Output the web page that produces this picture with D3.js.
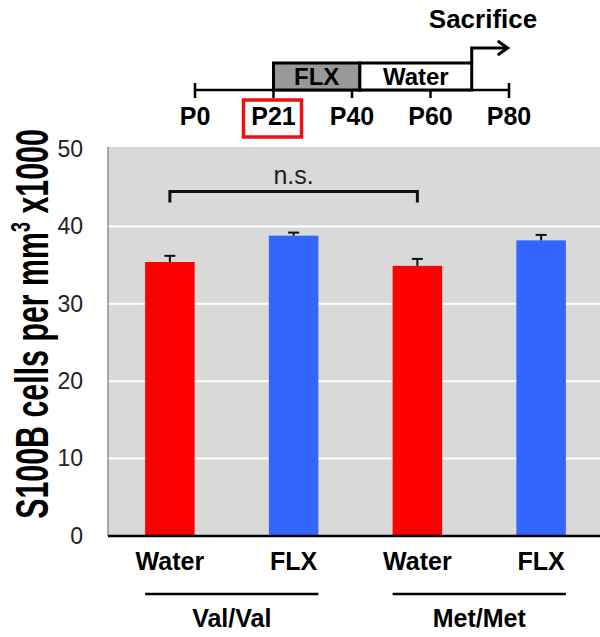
<!DOCTYPE html>
<html>
<head>
<meta charset="utf-8">
<script src="https://cdn.jsdelivr.net/npm/d3@7"></script>
<style>
	body { margin: 0; background: #fff; }
	svg { display: block; font-family: "Liberation Sans", Arial, sans-serif; }
</style>
</head>
<body>
<svg></svg>
<script>
const svgWidth = 600;
const svgHeight = 637;

// bar data
const treatments = ["Water", "FLX", "Water", "FLX"];
const genotypes = ["Val/Val", "Val/Val", "Met/Met", "Met/Met"];
const means = [35.4, 38.8, 34.9, 38.2];
const errors = [0.8, 0.4, 0.9, 0.7];
const barColors = ["#ff0000", "#3366ff", "#ff0000", "#3366ff"];
const yTicks = [0, 10, 20, 30, 40, 50];

// timeline data
const ageTicks = [0, 21, 40, 60, 80];
const ageLabels = ["P0", "P21", "P40", "P60", "P80"];
const phases = ["FLX", "Water"];
const phaseStart = [21, 42];
const phaseEnd = [42, 70.5];
const phaseFill = ["#999999", "#ffffff"];
const sacrificeAge = 70.5;

const svg = d3.select("svg")
	.attr("width", svgWidth)
	.attr("height", svgHeight);

const plot = { left: 108, right: 603, top: 149, bottom: 536 };

let xScale = d3.scaleBand()
	.domain(d3.range(means.length))
	.range([plot.left, plot.right])
	.paddingInner(0.6)
	.paddingOuter(0.3);
let yScale = d3.scaleLinear()
	.domain([0, 50])
	.range([plot.bottom, plot.top]);

// Plot background
svg.append("rect")
	.attr("x", plot.left)
	.attr("y", plot.top - 2)
	.attr("width", plot.right - plot.left)
	.attr("height", plot.bottom - plot.top + 2)
	.attr("fill", "#d9d9d9");

// Grid lines
svg.append("g")
	.selectAll("line")
	.data(yTicks.filter(d => d > 0 && d < 50))
	.enter()
	.append("line")
		.attr("x1", plot.left)
		.attr("x2", plot.right)
		.attr("y1", d => yScale(d))
		.attr("y2", d => yScale(d))
		.attr("stroke", "#ffffff")
		.attr("stroke-width", 2);

// Y axis
let yAxis = d3.axisLeft(yScale)
	.tickValues(yTicks)
	.tickSize(0)
	.tickPadding(25);
let yAxisG = svg.append("g")
	.attr("transform", `translate(${plot.left}, 0)`)
	.call(yAxis);
yAxisG.select(".domain")
	.attr("stroke", "#8c8c8c")
	.attr("stroke-width", 1.5)
	.attr("d", `M0,${plot.top - 2}V${plot.bottom}`);
yAxisG.selectAll("text")
	.attr("font-size", 23)
	.attr("fill", "#222")
	.attr("font-family", "'Liberation Sans', Arial, sans-serif");

// Bars
svg.append("g")
	.selectAll("rect")
	.data(means)
	.enter()
	.append("rect")
		.attr("x", (d, i) => xScale(i))
		.attr("y", d => yScale(d))
		.attr("width", xScale.bandwidth())
		.attr("height", d => yScale(0) - yScale(d))
		.attr("fill", (d, i) => barColors[i]);

// Error bars
let errG = svg.append("g")
	.attr("stroke", "#111")
	.attr("stroke-width", 2);
means.forEach((m, i) => {
	let cx = xScale(i) + xScale.bandwidth() / 2;
	errG.append("line")
		.attr("x1", cx).attr("x2", cx)
		.attr("y1", yScale(m)).attr("y2", yScale(m + errors[i]));
	errG.append("line")
		.attr("x1", cx - 5.5).attr("x2", cx + 5.5)
		.attr("y1", yScale(m + errors[i])).attr("y2", yScale(m + errors[i]));
});

// X axis line
svg.append("line")
	.attr("x1", plot.left)
	.attr("x2", plot.right)
	.attr("y1", plot.bottom)
	.attr("y2", plot.bottom)
	.attr("stroke", "#000")
	.attr("stroke-width", 2.5);

// Significance bracket
let c0 = xScale(0) + xScale.bandwidth() / 2;
let c2 = xScale(2) + xScale.bandwidth() / 2;
let yBr = yScale(44.5);
svg.append("path")
	.attr("d", `M${c0},${yBr + 11}V${yBr}H${c2}V${yBr + 11}`)
	.attr("fill", "none")
	.attr("stroke", "#111")
	.attr("stroke-width", 3);
svg.append("text")
	.text("n.s.")
	.attr("x", (c0 + c2) / 2)
	.attr("y", yBr - 8)
	.attr("font-size", 25)
	.attr("fill", "#222")
	.attr("text-anchor", "middle");

// X labels
svg.append("g")
	.selectAll("text")
	.data(treatments)
	.enter()
	.append("text")
		.text(d => d)
		.attr("x", (d, i) => xScale(i) + xScale.bandwidth() / 2)
		.attr("y", 570)
		.attr("font-size", 25)
		.attr("font-weight", "bold")
		.attr("text-anchor", "middle");

// Genotype groups
let groups = Array.from(new Set(genotypes));
groups.forEach(g => {
	let idx = genotypes.map((d, i) => d === g ? i : -1).filter(i => i >= 0);
	let x1 = xScale(idx[0]);
	let x2 = xScale(idx[idx.length - 1]) + xScale.bandwidth();
	svg.append("line")
		.attr("x1", x1).attr("x2", x2)
		.attr("y1", 594).attr("y2", 594)
		.attr("stroke", "#000")
		.attr("stroke-width", 2.5);
	svg.append("text")
		.text(g)
		.attr("x", (x1 + x2) / 2)
		.attr("y", 627)
		.attr("font-size", 25)
		.attr("font-weight", "bold")
		.attr("text-anchor", "middle");
});

// Y axis title (condensed, as in the original figure)
svg.append("text")
	.attr("transform", "translate(48, 324) rotate(-90) scale(0.66, 1)")
	.attr("x", 0)
	.attr("y", 0)
	.attr("font-size", 46)
	.attr("font-weight", "bold")
	.attr("text-anchor", "middle")
	.call(t => {
		t.append("tspan").text("S100B cells per mm");
		t.append("tspan").text("3").attr("font-size", 27).attr("dy", -18);
		t.append("tspan").text(" x1000").attr("dy", 18);
	});

// Timeline: ticks equally spaced as in the schematic
let ageScale = d3.scaleLinear()
	.domain(ageTicks)
	.range(ageTicks.map((d, i) => 195 + i * (509 - 195) / (ageTicks.length - 1)));
let lineY = 90;
let tl = svg.append("g");

tl.append("line")
	.attr("x1", ageScale(0)).attr("x2", ageScale(80))
	.attr("y1", lineY).attr("y2", lineY)
	.attr("stroke", "#000").attr("stroke-width", 2.5);

tl.selectAll(".tick")
	.data(ageTicks)
	.enter()
	.append("line")
		.attr("x1", d => ageScale(d)).attr("x2", d => ageScale(d))
		.attr("y1", d => (d === 0 || d === 80) ? lineY - 7 : lineY)
		.attr("y2", lineY + 8)
		.attr("stroke", "#000").attr("stroke-width", 2.5);

tl.selectAll(".phase")
	.data(phases)
	.enter()
	.append("rect")
		.attr("x", (d, i) => ageScale(phaseStart[i]))
		.attr("y", 63)
		.attr("width", (d, i) => ageScale(phaseEnd[i]) - ageScale(phaseStart[i]))
		.attr("height", lineY - 63)
		.attr("fill", (d, i) => phaseFill[i])
		.attr("stroke", "#000")
		.attr("stroke-width", 3);

tl.selectAll(".phaseLabel")
	.data(phases)
	.enter()
	.append("text")
		.text(d => d)
		.attr("x", (d, i) => (ageScale(phaseStart[i]) + ageScale(phaseEnd[i])) / 2)
		.attr("y", 85)
		.attr("font-size", 24)
		.attr("font-weight", "bold")
		.attr("text-anchor", "middle");

tl.selectAll(".ageLabel")
	.data(ageTicks)
	.enter()
	.append("text")
		.text((d, i) => ageLabels[i])
		.attr("x", d => ageScale(d))
		.attr("y", 125)
		.attr("font-size", 25)
		.attr("font-weight", "bold")
		.attr("text-anchor", "middle");

// red box around weaning age
tl.append("rect")
	.attr("x", ageScale(21) - 30)
	.attr("y", 100)
	.attr("width", 58)
	.attr("height", 37)
	.attr("fill", "none")
	.attr("stroke", "#ee1111")
	.attr("stroke-width", 3.5);

// sacrifice arrow
let sx = ageScale(sacrificeAge);
tl.append("path")
	.attr("d", `M${sx},63V48H${sx + 34}`)
	.attr("fill", "none")
	.attr("stroke", "#000")
	.attr("stroke-width", 3);
tl.append("path")
	.attr("d", `M${sx + 26},41L${sx + 36},48L${sx + 26},55`)
	.attr("fill", "none")
	.attr("stroke", "#000")
	.attr("stroke-width", 3);
tl.append("text")
	.text("Sacrifice")
	.attr("x", 483)
	.attr("y", 28)
	.attr("font-size", 26)
	.attr("font-weight", "bold")
	.attr("text-anchor", "middle");
</script>
</body>
</html>
